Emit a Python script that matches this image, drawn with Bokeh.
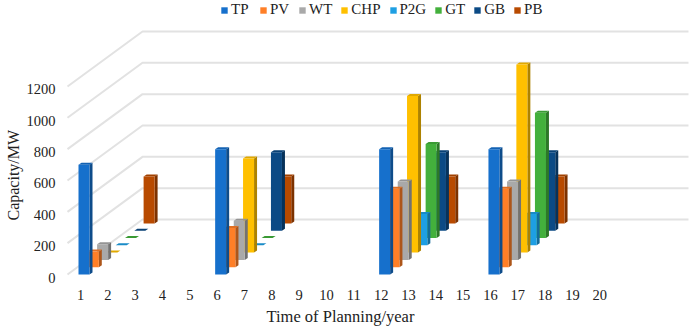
from bokeh.plotting import figure
from bokeh.embed import file_html
from bokeh.resources import INLINE
from bokeh.models import Legend, LegendItem, Title, FixedTicker, Range1d

# ---- data ----
years = [1, 6, 12, 16]
TP = [700, 800, 800, 800]
PV = [100, 250, 500, 500]
WT = [100, 250, 500, 500]
CHP = [0, 600, 1000, 1200]
P2G = [0, 0, 200, 200]
GT = [0, 0, 600, 800]
GB = [0, 500, 500, 500]
PB = [300, 300, 300, 300]
series_names = ["TP", "PV", "WT", "CHP", "P2G", "GT", "GB", "PB"]
series_values = [TP, PV, WT, CHP, P2G, GT, GB, PB]
series_colors = ["#1670CC", "#FF7F27", "#A9A9A9", "#FFC000", "#1E9FE3", "#43B03C", "#0B4A85", "#B84A00"]
y_ticks = [0, 200, 400, 600, 800, 1000, 1200]
x_ticks = list(range(1, 21))

# ---- projection constants (pixels of the 692x328 picture) ----
PX_SLOT = 27.33
PX_MW = 0.1567
X0 = 80.0      # px of slot 1
Y0 = 274.0     # px of 0 MW on the front plane
FIG_W, FIG_H = 692, 328
F_L, F_R, F_T, F_B = 62.0, 692.0, 0.0, 282.0   # frame edges in picture px
LABEL_DROP = 3.0  # tick labels sit this many px below their gridline's start


def sx(px):
    return 1 + (px - X0) / PX_SLOT


def sy(py):
    return (Y0 - py) / PX_MW


def darken(c, f):
    r, g, b = int(c[1:3], 16), int(c[3:5], 16), int(c[5:7], 16)
    return "#%02x%02x%02x" % (int(r * f), int(g * f), int(b * f))


p = figure(width=FIG_W, height=FIG_H, output_backend="svg", toolbar_location=None,
           x_range=Range1d(sx(F_L), sx(F_R)), y_range=Range1d(sy(F_B), sy(F_T)),
           min_border_left=int(F_L), min_border_right=int(FIG_W - F_R),
           min_border_top=int(F_T), min_border_bottom=int(FIG_H - F_B),
           outline_line_color=None, background_fill_color="white", border_fill_color="white")
p.grid.visible = False

FONT = "Liberation Serif"
tick_pos = [t - LABEL_DROP / PX_MW for t in y_ticks]
p.yaxis.ticker = FixedTicker(ticks=tick_pos)
p.yaxis[0].major_label_overrides = {pos: str(t) for pos, t in zip(tick_pos, y_ticks)}
p.xaxis.ticker = FixedTicker(ticks=x_ticks)
for ax in (p.xaxis[0], p.yaxis[0]):
    ax.axis_line_color = None
    ax.major_tick_line_color = None
    ax.minor_tick_line_color = None
    ax.major_tick_in = 0
    ax.major_tick_out = 0
    ax.major_label_text_font = FONT
    ax.major_label_text_font_size = "14.5px"
    ax.major_label_text_color = "#222222"
p.yaxis[0].major_label_standoff = 7
p.xaxis[0].major_label_standoff = 7

# ---- gridlines: side wall + back wall ----
DEPTH_X, DEPTH_Y = 75.0, 55.0
GRID_L, GRID_R = 67.0, 688.0
gx, gy = [], []
for t in y_ticks:
    gx.append([sx(GRID_L), sx(GRID_L + DEPTH_X), sx(GRID_R)])
    gy.append([t, t + DEPTH_Y / PX_MW, t + DEPTH_Y / PX_MW])
p.multi_line(gx, gy, line_color="#E2E2E2", line_width=2)

# ---- bars, drawn back to front ----
STEP_X, STEP_Y = 9.3, 7.3
FACE_W, SIDE_W, CAP_H = 11.0, 3.0, 2.0
items = {}
for i in range(len(series_names) - 1, -1, -1):
    col = series_colors[i]
    vals = series_values[i]
    left = [sx(X0 + (y - 1) * PX_SLOT - 2 + i * STEP_X) for y in years]
    right = [sx(X0 + (y - 1) * PX_SLOT - 2 + i * STEP_X + FACE_W) for y in years]
    base = i * STEP_Y / PX_MW
    dsx, csy = SIDE_W / PX_SLOT, CAP_H / PX_MW
    side_x = [[r, r + dsx, r + dsx, r] for r in right]
    side_y = [[base, base + csy, base + v + csy, base + v] for v in vals]
    cap_x = [[l, r, r + dsx, l + dsx] for l, r in zip(left, right)]
    cap_y = [[base + v, base + v, base + v + csy, base + v + csy] for v in vals]
    p.patches(side_x, side_y, fill_color=darken(col, 0.68), line_color=None)
    p.patches(cap_x, cap_y, fill_color=darken(col, 0.88), line_color=None)
    items[series_names[i]] = p.quad(left=left, right=right, bottom=[base] * len(vals),
                                    top=[base + v for v in vals], fill_color=col, line_color=None)

legend = Legend(items=[LegendItem(label=n, renderers=[items[n]]) for n in series_names],
                orientation="horizontal", location=(158, 264), padding=0, margin=0,
                spacing=8, glyph_width=8, glyph_height=8, label_standoff=3,
                label_text_font=FONT, label_text_font_size="15px", label_text_color="#222222",
                border_line_color=None, background_fill_alpha=0)
p.add_layout(legend, "center")

p.add_layout(Title(text="Time of Planning/year", text_font=FONT, text_font_size="16.5px",
                   text_font_style="normal", text_color="#222222", align="left",
                   offset=204, standoff=4), "below")
p.add_layout(Title(text="Capacity/MW", text_font=FONT, text_font_size="16px",
                   text_font_style="normal", text_color="#222222", align="left",
                   offset=62, standoff=4), "left")

open("out.html", "w").write(file_html(p, INLINE))
